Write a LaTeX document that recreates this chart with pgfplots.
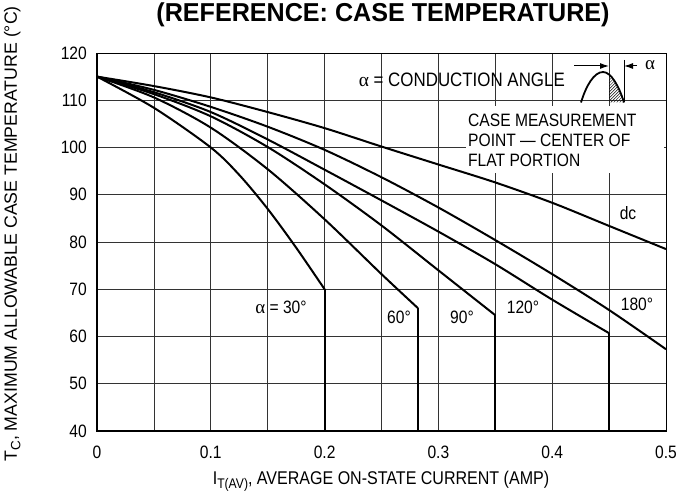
\documentclass[border=0pt]{standalone}
\usepackage{pgfplots}
\pgfplotsset{compat=1.18}
\usepackage{fontspec}
\setmainfont{Liberation Sans}
\newfontfamily\cf{Liberation Sans}[FakeStretch=0.87]
\newfontfamily\tf{Liberation Sans}[FakeStretch=0.97]
\newfontfamily\sym{Liberation Serif}
\usetikzlibrary{patterns,arrows.meta}
\begin{document}
\begin{tikzpicture}
\begin{scope}[x=1bp,y=1bp]
\clip (-97,-73) rectangle (581,431);
\end{scope}
\begin{axis}[
  at={(0,0)}, anchor=south west,
  scale only axis, width=569bp, height=378bp,
  xmin=0, xmax=0.5, ymin=40, ymax=120,
  xtick={0,0.1,0.2,0.3,0.4,0.5},
  minor xtick={0.05,0.15,0.25,0.35,0.45},
  ytick={40,50,60,70,80,90,100,110,120},
  grid=both,
  major grid style={line width=0.8bp, black!80},
  minor grid style={line width=0.8bp, black!80},
  major tick length=0pt, minor tick length=0pt,
  axis line style={line width=0.9bp},
  /pgf/number format/assume math mode=true,
  /pgf/number format/.cd, fixed, precision=1, /pgfplots/.cd,
  tick label style={font=\cf\fontsize{18}{20}\selectfont},
  xticklabel style={anchor=base, inner sep=0pt, yshift=-28bp},
  yticklabel style={anchor=east, inner sep=0pt, xshift=-10bp},
  curve/.style={line width=2bp, black, solid, mark=none},
]
% white box behind the case-measurement note
\fill[white] (axis cs:0.3243,94.6) rectangle (axis cs:0.4985,108.8);
% dc
\addplot[curve, smooth, tension=0.5] coordinates {(0,115) (0.05,113.0) (0.1,110.6) (0.15,107.5) (0.2,104.1) (0.25,100.2) (0.3,96.4) (0.35,92.6) (0.4,88.3) (0.45,83.4) (0.5,78.5)};
% 180
\addplot[curve, smooth, tension=0.5] coordinates {(0,115) (0.05,112.2) (0.1,108.6) (0.15,104.4) (0.2,99.5) (0.25,93.7) (0.3,87.3) (0.35,80.4) (0.4,73.2) (0.45,65.6) (0.5,57.3)};
% 120
\addplot[curve, smooth, tension=0.5] coordinates {(0,115) (0.05,111.7) (0.1,107.5) (0.15,101.7) (0.2,95.3) (0.25,88.8) (0.3,82.2) (0.35,75.3) (0.4,67.8) (0.45,60.7)};
\addplot[curve] coordinates {(0.45,60.7) (0.45,40)};
% 90
\addplot[curve, smooth, tension=0.5] coordinates {(0,115) (0.05,111.3) (0.1,106.6) (0.15,100.1) (0.2,92.2) (0.25,83.5) (0.3,74.0) (0.35,64.5)};
\addplot[curve] coordinates {(0.35,64.5) (0.35,40)};
% 60
\addplot[curve, smooth, tension=0.5] coordinates {(0,115) (0.05,110.6) (0.1,104.2) (0.15,95.4) (0.2,84.8) (0.25,73.2) (0.282,66.0)};
\addplot[curve] coordinates {(0.282,66.0) (0.282,40)};
% 30
\addplot[curve, smooth, tension=0.5] coordinates {(0,115) (0.05,108.4) (0.1,100) (0.125,94.2) (0.15,87.0) (0.175,78.8) (0.2,70)};
\addplot[curve] coordinates {(0.2,70) (0.2,40)};
\end{axis}
\begin{scope}[x=1bp,y=1bp]
% heavy left and bottom axis lines
\draw[line width=2bp] (0,378) -- (0,0) -- (569,0);
% title
\node[font=\tf\bfseries\fontsize{26}{28}\selectfont, anchor=base] at (286,409) {(REFERENCE: CASE TEMPERATURE)};
% axis labels
\node[font=\cf\fontsize{18.5}{20}\selectfont, anchor=base] at (284,-54) {I\raisebox{-0.35ex}{\fontsize{14}{14}\selectfont T(AV)}, AVERAGE ON-STATE CURRENT (AMP)};
\node[font=\fontsize{17.8}{20}\selectfont, rotate=90, anchor=base west] at (-80,-34) {T\raisebox{-0.35ex}{\fontsize{13.5}{14}\selectfont C}, MAXIMUM ALLOWABLE CASE TEMPERATURE (°C)};
% curve labels
\begin{scope}[every node/.style={font=\cf\fontsize{18}{20}\selectfont, inner sep=0pt}]
\node at (184,124) {{\sym\fontsize{19}{20}\selectfont α} = 30°};
\node at (302,114) {60°};
\node at (365,114) {90°};
\node at (426,124) {120°};
\node at (540,127) {180°};
\node at (531,218) {dc};
\node[anchor=base east, font=\cf\fontsize{19.5}{20}\selectfont] at (468,344) {{\sym α} = CONDUCTION ANGLE};
\node[anchor=base west] at (371,304) {CASE MEASUREMENT};
\node[anchor=base west] at (371,284) {POINT — CENTER OF};
\node[anchor=base west] at (371,264) {FLAT PORTION};
\node at (553,366) {{\sym\fontsize{19}{20}\selectfont α}};
\end{scope}
% conduction waveform icon
\begin{scope}
\clip (512,328.5) rectangle (527,362);
\fill[pattern=north east lines] (484,328.5) .. controls (489,345) and (497,359) .. (506,359) .. controls (514,359) and (522,345) .. (527,328.5) -- cycle;
\end{scope}
\draw[line width=1.8bp] (484,328.5) .. controls (489,345) and (497,359) .. (506,359) .. controls (514,359) and (522,345) .. (527,328.5);
\draw[line width=1bp] (527,371) -- (527,328.5);
\draw[line width=1bp, -{Latex[length=9bp,width=6bp]}] (477,365) -- (512,365);
\draw[line width=1bp, -{Latex[length=9bp,width=6bp]}] (540,365) -- (527,365);
\pgfresetboundingbox
\path[use as bounding box] (-97,-73) rectangle (581,431);
\end{scope}
\end{tikzpicture}
\end{document}
